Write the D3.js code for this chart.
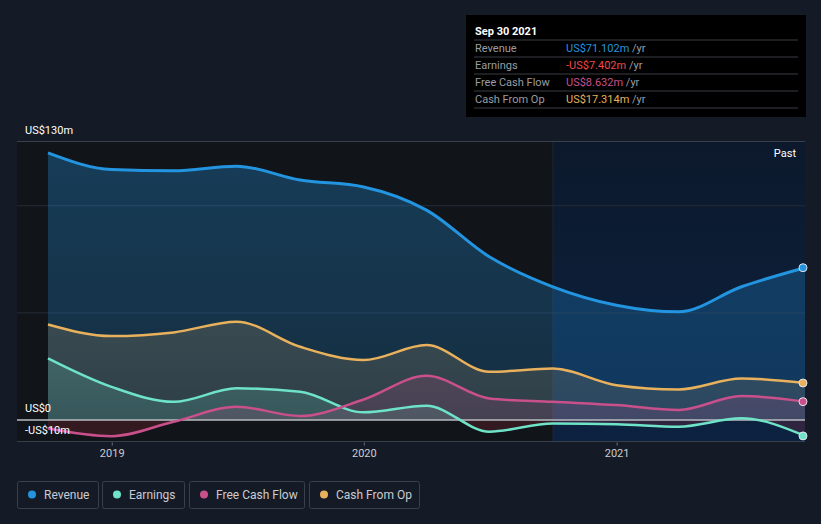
<!DOCTYPE html>
<html>
<head>
<meta charset="utf-8">
<script src="https://cdn.jsdelivr.net/npm/d3@7"></script>
<style>
  body { margin: 0; background: #151b26; font-family: Roboto, "Open Sans", sans-serif; }
  svg text { font-family: Roboto, "Open Sans", sans-serif; }
</style>
</head>
<body>
<div id="chart"></div>
<script>
// quarterly data (trailing twelve months), US$m
var dates = ["2018-09-30", "2018-12-31", "2019-03-31", "2019-06-30", "2019-09-30", "2019-12-31",
             "2020-03-31", "2020-06-30", "2020-09-30", "2020-12-31", "2021-03-31", "2021-06-30", "2021-09-30"];
var revenue  = [124.7, 116.9, 116.3, 118.5, 112.0, 108.8, 98.0, 76.2, 62.2, 53.6, 50.5, 62.2, 71.1];
var earnings = [28.8, 15.5, 8.5, 14.8, 13.2, 3.6, 6.7, -5.4, -1.6, -1.9, -3.1, 0.8, -7.4];
var fcf      = [-3.9, -7.5, -0.8, 6.2, 1.9, 9.6, 20.7, 10.1, 8.5, 7.0, 4.7, 11.2, 8.6];
var cfo      = [44.6, 39.2, 40.9, 45.9, 34.2, 28.0, 35.0, 22.5, 24.1, 16.3, 14.3, 19.4, 17.3];
var yearTicks = ["2019-01-01", "2020-01-01", "2021-01-01"];
var gridVals = [130, 100, 50, -10];

var W = 821, H = 524;
var parse = d3.timeParse("%Y-%m-%d");

var svg = d3.select("#chart").append("svg")
    .attr("width", W)
    .attr("height", H);

var x = d3.scaleTime()
    .domain([parse(dates[0]), parse(dates[dates.length - 1])])
    .range([48, 805]);
var y = d3.scaleLinear()
    .domain([-10, 130])
    .range([441.5, 141.5]);

var plotLeft = 17, plotRight = 805;
var pastStart = 553;

var defs = svg.append("defs");
var pg = defs.append("linearGradient").attr("id", "pastG")
    .attr("x1", 0).attr("y1", 0).attr("x2", 0).attr("y2", 1);
pg.append("stop").attr("offset", "0%").attr("stop-color", "#0c192c");
pg.append("stop").attr("offset", "100%").attr("stop-color", "#0c2240");

// plot backgrounds
svg.append("rect")
    .attr("x", plotLeft).attr("y", y(130))
    .attr("width", pastStart - plotLeft).attr("height", y(-10) - y(130))
    .attr("fill", "#111419");
svg.append("rect")
    .attr("x", pastStart).attr("y", y(130))
    .attr("width", plotRight - pastStart).attr("height", y(-10) - y(130))
    .attr("fill", "url(#pastG)");
svg.append("line")
    .attr("x1", pastStart).attr("x2", pastStart)
    .attr("y1", y(130)).attr("y2", y(-10))
    .attr("stroke", "#1a2639");

// gridlines
svg.selectAll(".grid")
  .data(gridVals)
  .enter().append("line")
    .attr("x1", plotLeft).attr("x2", plotRight)
    .attr("y1", function(d) { return y(d); })
    .attr("y2", function(d) { return y(d); })
    .attr("stroke", function(d) { return (d == 130 || d == -10) ? "#3a404b" : "#262d38"; })
    .attr("stroke-width", 1);

var series = [
  {name: "Revenue", vals: revenue, color: "#2394df", fill: "#2394df", op: [0.32, 0.2], w: 3},
  {name: "Cash From Op", vals: cfo, color: "#e9b15c", fill: "#b89a6a", op: [0.35, 0.15], w: 2.5},
  {name: "Earnings", vals: earnings, color: "#6ee3c8", fill: "#6ee3c8", op: [0.35, 0.15], w: 2.5},
  {name: "Free Cash Flow", vals: fcf, color: "#c9508b", fill: "#c9508b", op: [0.35, 0.15], w: 2.5}
];

series.forEach(function(s, i) {
  s.data = dates.map(function(d, j) { return {date: parse(d), v: s.vals[j]}; });
  var g = defs.append("linearGradient").attr("id", "g" + i)
      .attr("gradientUnits", "userSpaceOnUse")
      .attr("x1", 0).attr("y1", y(130)).attr("x2", 0).attr("y2", y(0));
  g.append("stop").attr("offset", "0%").attr("stop-color", s.fill).attr("stop-opacity", s.op[0]);
  g.append("stop").attr("offset", "100%").attr("stop-color", s.fill).attr("stop-opacity", s.op[1]);
});

defs.append("clipPath").attr("id", "above")
  .append("rect").attr("x", 0).attr("y", 0).attr("width", W).attr("height", y(0));
defs.append("clipPath").attr("id", "below")
  .append("rect").attr("x", 0).attr("y", y(0)).attr("width", W).attr("height", H - y(0));

var area = d3.area()
    .curve(d3.curveMonotoneX)
    .x(function(d) { return x(d.date); })
    .y0(y(0))
    .y1(function(d) { return y(d.v); });
var line = d3.line()
    .curve(d3.curveMonotoneX)
    .x(function(d) { return x(d.date); })
    .y(function(d) { return y(d.v); });

// areas
series.forEach(function(s, i) {
  svg.append("path")
      .datum(s.data)
      .attr("d", area)
      .attr("clip-path", "url(#above)")
      .attr("fill", "url(#g" + i + ")");
  svg.append("path")
      .datum(s.data)
      .attr("d", area)
      .attr("clip-path", "url(#below)")
      .attr("fill", "#d0364a")
      .attr("fill-opacity", 0.18);
});

// zero line
svg.append("line")
    .attr("x1", plotLeft).attr("x2", plotRight)
    .attr("y1", y(0)).attr("y2", y(0))
    .attr("stroke", "#b9bcc2").attr("stroke-width", 1.5);

// lines
series.forEach(function(s) {
  svg.append("path")
      .datum(s.data)
      .attr("d", line)
      .attr("fill", "none")
      .attr("stroke", s.color)
      .attr("stroke-width", s.w);
});

// end points
series.forEach(function(s) {
  var last = s.data[s.data.length - 1];
  svg.append("circle")
      .attr("cx", x(last.date) - 2)
      .attr("cy", y(last.v))
      .attr("r", 4)
      .attr("fill", s.color)
      .attr("stroke", "#dfe3ea")
      .attr("stroke-width", 1);
});

// y labels
var yLabels = [{t: "US$130m", v: 130, dy: -8}, {t: "US$0", v: 0, dy: -8}, {t: "-US$10m", v: -10, dy: -8}];
svg.selectAll(".ylab")
  .data(yLabels)
  .enter().append("text")
    .attr("x", 25)
    .attr("y", function(d) { return y(d.v) + d.dy; })
    .attr("fill", "#ffffff")
    .attr("font-size", 11)
    .text(function(d) { return d.t; });

// x axis ticks
svg.selectAll(".xt")
  .data(yearTicks)
  .enter().append("line")
    .attr("x1", function(d) { return x(parse(d)); })
    .attr("x2", function(d) { return x(parse(d)); })
    .attr("y1", y(-10) + 1).attr("y2", y(-10) + 4)
    .attr("stroke", "#6b717c");
svg.selectAll(".xl")
  .data(yearTicks)
  .enter().append("text")
    .attr("x", function(d) { return x(parse(d)); })
    .attr("y", 457)
    .attr("text-anchor", "middle")
    .attr("fill", "#c9ccd2")
    .attr("font-size", 11)
    .text(function(d) { return d.slice(0, 4); });

svg.append("text")
    .attr("x", 796).attr("y", 157)
    .attr("text-anchor", "end")
    .attr("fill", "#ffffff")
    .attr("font-size", 11)
    .text("Past");

// tooltip box
var tip = svg.append("g").attr("transform", "translate(466,15)");
tip.append("rect").attr("width", 340).attr("height", 102).attr("fill", "#000000");
tip.append("text").attr("x", 9).attr("y", 20)
    .attr("fill", "#ffffff").attr("font-size", 11).attr("font-weight", "bold")
    .text("Sep 30 2021");
var tipRows = [
  {label: "Revenue", value: "US$71.102m", color: "#2394df"},
  {label: "Earnings", value: "-US$7.402m", color: "#f04848"},
  {label: "Free Cash Flow", value: "US$8.632m", color: "#c9508b"},
  {label: "Cash From Op", value: "US$17.314m", color: "#e9b15c"}
];
tipRows.forEach(function(r, i) {
  var ry = 25 + i * 17;
  tip.append("line").attr("x1", 8).attr("x2", 332).attr("y1", ry).attr("y2", ry)
      .attr("stroke", "#3a3d42");
  tip.append("text").attr("x", 9).attr("y", ry + 12)
      .attr("fill", "#9a9da3").attr("font-size", 11).text(r.label);
  var t = tip.append("text").attr("x", 100).attr("y", ry + 12).attr("font-size", 11);
  t.append("tspan").attr("fill", r.color).text(r.value);
  t.append("tspan").attr("fill", "#9a9da3").text(" /yr");
});
tip.append("line").attr("x1", 8).attr("x2", 332).attr("y1", 93).attr("y2", 93)
    .attr("stroke", "#3a3d42");

// legend
var legend = [
  {name: "Revenue", color: "#2394df", x: 17, w: 81},
  {name: "Earnings", color: "#6ee3c8", x: 102, w: 82},
  {name: "Free Cash Flow", color: "#c9508b", x: 189, w: 115},
  {name: "Cash From Op", color: "#e9b15c", x: 309, w: 110}
];
var lg = svg.selectAll(".leg").data(legend).enter().append("g")
    .attr("transform", function(d) { return "translate(" + d.x + ",481)"; });
lg.append("rect")
    .attr("x", 0.5).attr("y", 0.5)
    .attr("width", function(d) { return d.w; }).attr("height", 27)
    .attr("rx", 2)
    .attr("fill", "none").attr("stroke", "#3a404b");
lg.append("circle").attr("cx", 15).attr("cy", 13.5).attr("r", 4)
    .attr("fill", function(d) { return d.color; });
lg.append("text").attr("x", 27).attr("y", 17.5)
    .attr("fill", "#c9ccd2").attr("font-size", 12)
    .text(function(d) { return d.name; });
</script>
</body>
</html>
